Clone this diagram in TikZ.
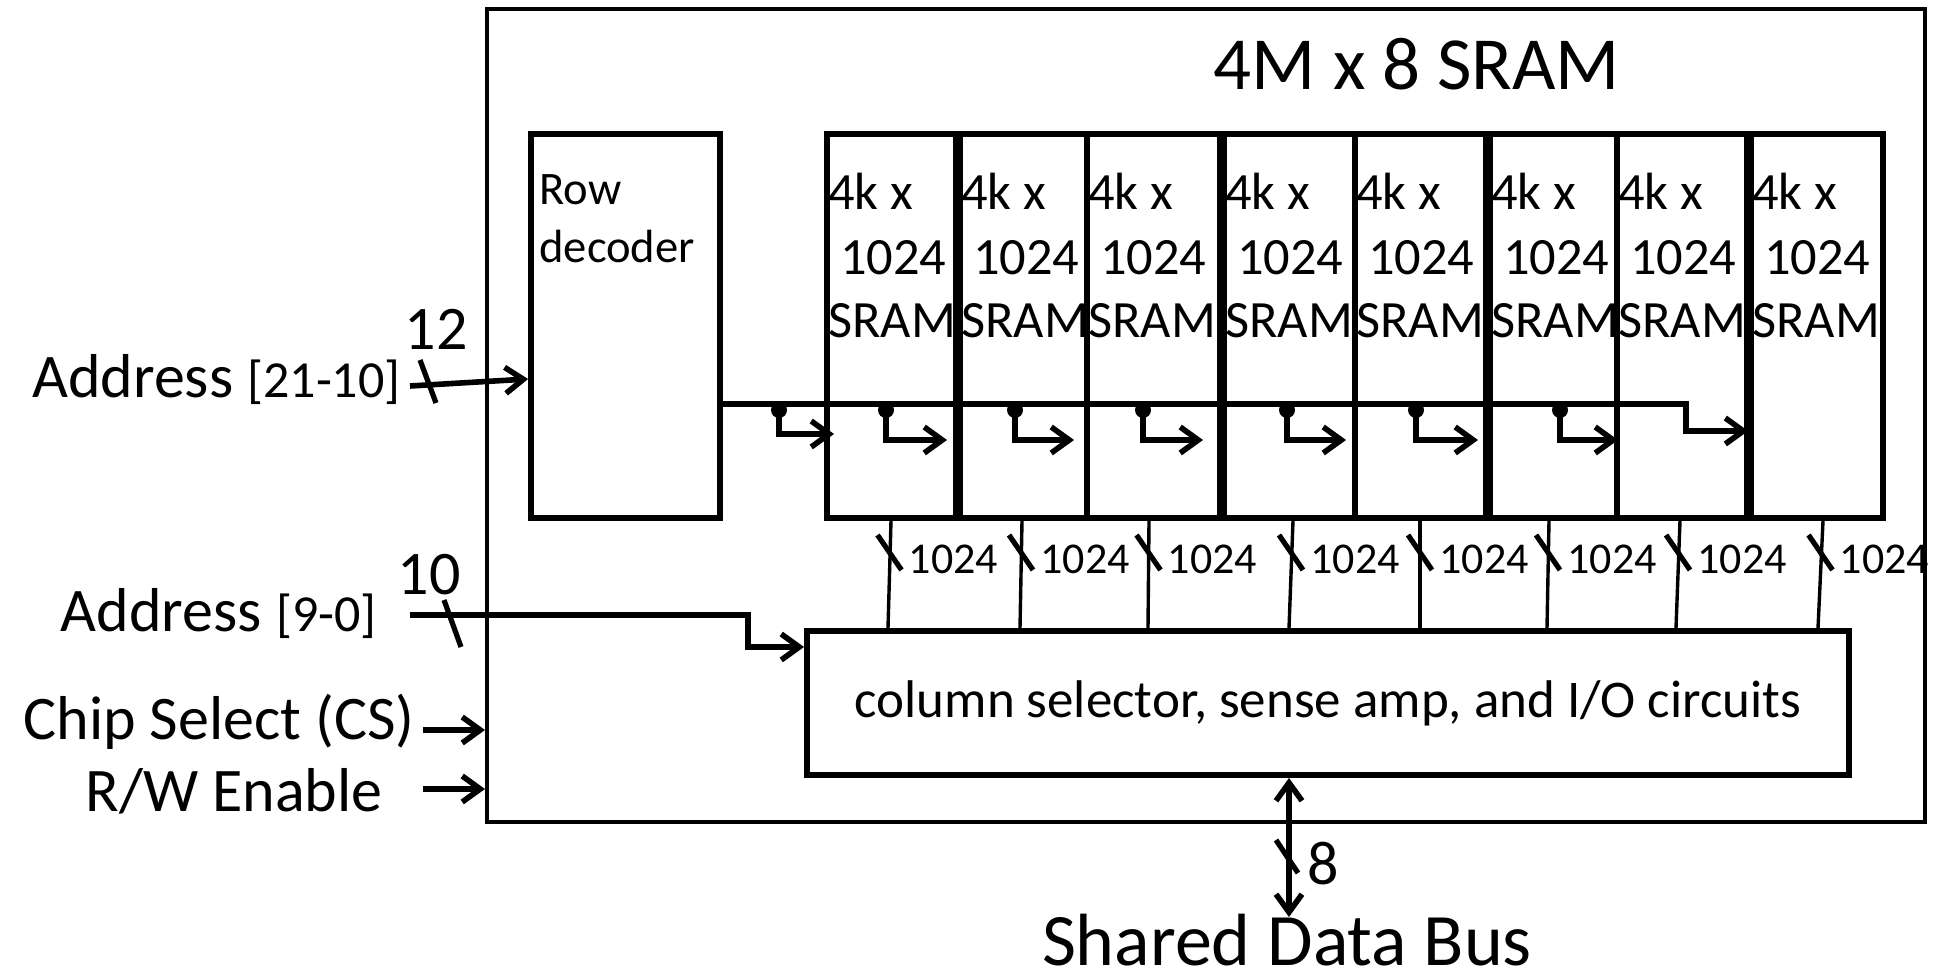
\documentclass[tikz,border=0pt]{standalone}
\usepackage{fontspec}
\setmainfont{Carlito}
\usetikzlibrary{arrows.meta,calc}
\begin{document}
\begin{tikzpicture}[x=0.5pt,y=-0.5pt,
  box/.style={draw, line width=2.9pt, inner sep=0pt},
  arr/.style={line width=2.8pt, -{Straight Barb[length=9pt,width=13pt]}},
  dblarr/.style={line width=2.8pt, {Straight Barb[length=9pt,width=13pt]}-{Straight Barb[length=9pt,width=13pt]}},
  slashmark/.style={line width=2.6pt},
  biglab/.style={inner sep=0pt, font=\fontsize{31}{37}\selectfont},
  celltxt/.style={inner sep=0pt, anchor=base west, font=\fontsize{26.2}{32}\selectfont},
  smalllab/.style={inner sep=0pt, anchor=base west, font=\fontsize{22}{26}\selectfont},
  dot/.style={circle, fill=black, inner sep=0pt, minimum size=8pt}
]
\useasboundingbox (0,0) rectangle (1944,972);

% outer chip
\node[draw, line width=2pt, inner sep=0pt, minimum width=719pt, minimum height=406.5pt] (chip) at (1206,415.5) {};
\node[inner sep=0pt, anchor=base, font=\fontsize{37.5}{45}\selectfont] (title) at (1417,90) {4M x 8 SRAM};

% row decoder
\node[box, minimum width=94.5pt, minimum height=192pt] (rowdec) at (625.5,326) {};
\node[inner sep=0pt, anchor=base west, font=\fontsize{23.3}{28}\selectfont] (rowt1) at (539,205) {Row};
\node[inner sep=0pt, anchor=base west, font=\fontsize{23.3}{28}\selectfont] (rowt2) at (539,263) {decoder};

% column selector
\node[box, line width=3pt, minimum width=521pt, minimum height=72pt, font=\fontsize{26.5}{32}\selectfont] (col) at (1328,703) {column selector, sense amp, and I/O circuits};

% SRAM arrays
\foreach \l/\r/\tx/\bx [count=\i] in {827/956/891/888, 960/1087/1022/1020, 1087/1220/1149/1148, 1224/1355/1293/1289, 1355/1486/1420/1420, 1490/1617/1549/1547, 1617/1747/1680/1676, 1751/1883/1823/1818}{
  \node[box, minimum width={(\r-\l)*0.5pt}, minimum height=192pt] (s\i) at ({(\l+\r)/2},326) {};
  \node[celltxt] (s\i a) at (\l+1,210) {4k x};
  \node[celltxt] (s\i b) at (\l+1,275) {\ 1024};
  \node[celltxt] (s\i c) at (\l+1,338) {SRAM};
  \draw[line width=1.7pt] (s\i.south -| \tx,0) -- (col.north -| \bx,0);
  \draw[slashmark] ({(\tx+\bx)/2-12},535) -- ({(\tx+\bx)/2+12},570);
  \node[smalllab] (w\i) at ({(\tx+\bx)/2+19},574) {1024};
}

% word line bus
\coordinate (bus0) at (rowdec.east |- 0,404);
\coordinate (b8) at (1686,404);
\coordinate (e8) at (1686,431);
\draw[arr] (bus0) -- (b8) -- (e8) -- (s8.west |- e8);
\foreach \t/\e/\y [count=\i] in {779/834/434, 886/947/440, 1015/1074/440, 1143/1203/440, 1287/1346/440, 1416/1478/440, 1560/1618/440}{
  \coordinate (tap\i) at (\t,404);
  \coordinate (end\i) at (\e,\y);
  \node[dot] (d\i) at (\t,410) {};
  \draw[arr] (tap\i) |- (end\i);
}

% Address [21-10]
\node[biglab, anchor=base east] (addr1) at (401,398) {Address {\fontsize{26}{31}\selectfont [21-10]}};
\coordinate (a1) at (410,386);
\draw[arr] (a1) -- (rowdec.west |- 0,379);
\draw[slashmark] (420,360) -- (436,403);
\node[biglab, anchor=base] (n12) at (436,350) {12};

% Address [9-0]
\node[biglab, anchor=base east] (addr2) at (377,632) {Address {\fontsize{26}{31}\selectfont [9-0]}};
\coordinate (a2) at (410,615);
\coordinate (a2k) at (748,615);
\draw[arr] (a2) -- (a2k) |- (col.west |- 0,647);
\draw[slashmark] (444,600) -- (461,647);
\node[biglab, anchor=base] (n10) at (429,595) {10};

% Chip select and R/W
\node[biglab, anchor=base east] (cslab) at (415,740) {Chip Select (CS)};
\coordinate (cs) at (423,730);
\draw[arr] (cs) -- (chip.west |- cs);
\node[biglab, anchor=base east] (rwlab) at (383,811) {R/W Enable};
\coordinate (rw) at (423,789);
\draw[arr] (rw) -- (chip.west |- rw);

% data bus
\coordinate (db) at (1289,917);
\draw[dblarr] (col.south -| db) -- (db);
\draw[slashmark] (1276,840) -- (1298,873);
\node[biglab, anchor=base] (n8) at (1323,884) {8};
\node[inner sep=0pt, anchor=base, font=\fontsize{37}{44}\selectfont] (dbus) at (1287,965) {Shared Data Bus};
\end{tikzpicture}
\end{document}
